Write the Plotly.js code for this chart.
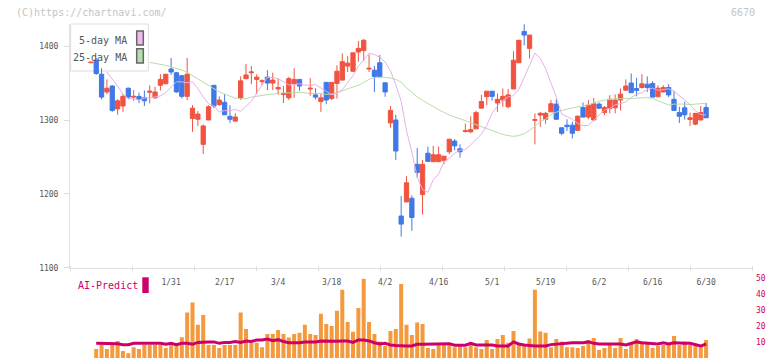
<!DOCTYPE html>
<html>
<head>
<meta charset="utf-8">
<script src="https://cdn.plot.ly/plotly-3.0.1.min.js"></script>
<style>html,body{margin:0;padding:0;background:#fff;}#chart{width:772px;height:361px;}</style>
</head>
<body>
<div id="chart"></div>
<script>
const dates = ['1/9','1/10','1/14','1/15','1/16','1/17','1/20','1/21','1/22','1/23','1/24','1/27','1/28','1/29','1/30','1/31',
'2/3','2/4','2/5','2/6','2/7','2/10','2/12','2/13','2/14','2/17','2/18','2/19','2/20','2/21','2/25','2/26','2/27','2/28',
'3/3','3/4','3/5','3/6','3/7','3/10','3/11','3/12','3/13','3/14','3/17','3/18','3/19','3/21','3/24','3/25','3/26','3/27','3/28','3/31',
'4/1','4/2','4/3','4/4','4/7','4/8','4/9','4/10','4/11','4/14','4/15','4/16','4/17','4/18','4/21','4/22','4/23','4/24','4/25','4/28','4/30',
'5/1','5/2','5/7','5/8','5/9','5/12','5/13','5/14','5/15','5/16','5/19','5/20','5/21','5/22','5/23','5/26','5/27','5/28','5/29','5/30',
'6/2','6/3','6/4','6/5','6/6','6/9','6/10','6/11','6/12','6/13','6/16','6/17','6/18','6/19','6/20','6/23','6/24','6/25','6/26','6/27','6/30'];

const tickDates = ['1/31','2/17','3/4','3/18','4/2','4/16','5/1','5/19','6/2','6/16','6/30'];

const openP = [1377.5,1381,1362,1338,1346,1315,1319,1343,1331,1332,
1330,1337.5,1330,1347,1349,1369,1364,1360,1332,1302,
1301,1267,1300,1347,1321,1324,1305,1298.5,1330,1356,
1364,1355,1352,1358,1350,1342,1334.5,1330,1349.5,1355,
null,1342,1334,1325,1351,1329,1349.5,1354,1373,1366,
1392,1394,1369,1367.5,1377.5,1350.4,1296,1300,1170,1189,
1194,1240,1199,1255,1243.5,1243.5,1245,1257,1271.5,1261,
1284.5,1284,1288,1316,1331.5,1339,1323,1327,1318,1342,
1377.5,1420,1397,1299.5,1306.6,1301,1311,1321.5,1289.5,1293,
1293,1286,1317,1304,1300,1321.5,1310,1315.6,1316.5,1327,
1340.4,1350,1342.7,1344,1348.5,1349.4,1331.4,1338,1344,1328,
1310,1316.5,1300.7,1294.4,1300,1317];

const highP = [1378.3,1384,1370,1355,1347,1328,1335,1344,1340.5,1337,
1340,1347,1345,1362,1362,1384,1365,1361,1384,1320,
1312,1294,1320,1347,1332,1335,1320,1309,1359,1376,
1373,1362,1355,1367.5,1364,1356,1346,1358.5,1370,1355,
null,1356.7,1343,1336,1351,1351,1374,1390,1386.5,1391,
1407,1409.5,1389,1373,1388,1350.4,1319,1307,1197,1224,
1198,1262,1246,1264,1265,1264,1251,1274,1274,1267,
1295,1305,1312.5,1334,1339,1339,1336,1342.7,1342,1393,
1408,1429.7,1415,1309,1311,1311,1327,1328,1289.5,1301,
1297.6,1306.6,1323.7,1327,1330,1323.7,1319,1333.7,1334.6,1342.7,
1355,1363,1357,1362,1359,1352.6,1347,1347,1348.5,1339.5,
1318,1324.7,1310,1309,1319,1323];

const lowP = [1377.5,1361,1328,1335,1311,1307,1311,1328,1326,1323,
1319,1322.5,1329,1340,1349,1361,1337,1329,1327,1284,
1292,1254,1300,1316,1319,1307,1296,1297.5,1327,1355,
1348.6,1335,1347,1340.5,1340.5,1334,1323,1327,1330,1339.6,
null,1333,1328,1311,1321.5,1327,1329,1354,1365,1365,
1379,1380,1365,1338,1358.5,1331.5,1289.5,1246,1142,1189,
1150,1222,1172,1243.5,1243.5,1243.5,1240,1254,1259,1249,
1283,1282,1288,1316,1320,1326,1311,1318,1315.6,1342,
1377.5,1401,1383,1267,1291,1295,1311,1300.7,1279.5,1285,
1275,1285,1303.5,1301,1300,1314.7,1306.6,1309,1309,1313,
1339.5,1337,1332,1342.7,1338,1331,1331,1338,1331,1312.5,
1296,1300.7,1292,1293,1300,1303];

const closeP = [1378.3,1363,1331,1343,1313,1326,1332,1331,1332,1328,
1326,1339,1338,1355,1362,1365,1338,1332,1362,1316,
1308,1292,1318,1319,1327,1307,1301,1304,1353,1361,
1365,1358,1353,1350,1354,1344,1336,1356,1355,1346,
null,1343,1331,1330,1327,1351,1366,1379,1377,1391,
1397,1408,1370,1359,1359,1338,1313,1258,1159,1215,
1168,1229,1240,1244,1253,1253,1251,1274,1265,1257,
1285.5,1287,1310,1325,1339,1332,1328,1332,1334,1381,
1408,1415,1415,1300.5,1309,1309,1322,1301,1282,1291,
1282,1305,1304,1320,1322,1316,1317,1328,1327,1335,
1346,1337,1340,1349,1344,1331,1343,1344,1334,1313,
1305,1307,1303,1309,1310,1303];

const ma5 = [null,null,null,1365,1356,1345.6,1335.2,1329.0,1329.0,1326.8,
1329.8,1329.8,1331.2,1332.6,1337.2,1344.0,1351.8,1351.6,1350.4,1351.8,
1342.6,1331.2,1322.0,1319.2,1310.6,1312.8,1312.6,1314.4,1311.6,1318.4,
1325.2,1336.8,1348.2,1358.0,1357.4,1356.0,1351.8,1347.4,1348.0,1349.0,
1347.4,1346.6,1348.0,1343.0,1338.0,1334.2,1336.4,1341.0,1350.6,1360.0,
1372.8,1382.0,1390.4,1388.6,1385.0,1378.6,1366.8,1347.8,1325.4,1285.4,
1256.6,1222.6,1205.8,1202.2,1219.2,1226.8,1243.8,1248.2,1255.0,1259.2,
1260.0,1266.4,1273.6,1280.8,1292.8,1309.2,1318.6,1326.8,1331.2,1333.0,
1341.4,1356.6,1374.0,1390.6,1383.8,1369.4,1349.6,1331.0,1308.2,1304.6,
1301.0,1295.6,1292.2,1292.8,1300.4,1306.6,1313.4,1315.8,1320.6,1322.0,
1324.6,1330.6,1334.6,1337.0,1341.4,1343.2,1340.2,1341.4,1342.2,1339.2,
1333.0,1327.8,1320.6,1312.4,1307.4,1306.8];

const ma25 = [null,null,null,null,null,null,null,null,null,null,
null,1378,1377,1375.5,1374,1372,1370,1367.5,1364.5,1360,
1355.5,1351,1346,1341.5,1338,1335.0,1332.1,1329.6,1328.6,1329.0,
1330.9,1332.4,1333.5,1334.4,1335.1,1336.1,1336.8,1336.7,1337.4,1337.4,
1336.8,1335.8,1336.0,1336.0,1334.7,1335.1,1336.8,1339.8,1342.2,1344.6,
1347.1,1350.7,1355.0,1357.6,1357.9,1357.8,1356.7,1354.9,1351.1,1343.5,
1337.9,1330.9,1326.6,1322.0,1317.5,1313.8,1310.3,1306.6,1304.4,1301.8,
1299.0,1296.3,1293.2,1290.4,1288.3,1286.2,1283.6,1280.4,1278.9,1277.9,
1278.8,1281.6,1285.7,1292.0,1297.6,1301.4,1307.0,1310.7,1313.2,1314.7,
1316.2,1317.4,1319.5,1320.7,1322.9,1325.5,1326.8,1328.0,1328.7,1328.8,
1328.6,1329.2,1329.5,1329.8,1330.4,1329.0,1325.9,1323.0,1320.2,1321.5,
1321.7,1321.5,1320.9,1321.0,1322.1,1322.8];

const volume = [null,5.7,8.2,5.7,8.2,10.7,4.4,3.0,6.7,5.7,
8.2,8.2,8.2,8.2,6.3,8.2,9.2,13.0,28.5,34.8,
20.8,27.0,8.2,8.2,6.3,8.2,8.2,8.2,28.5,18.2,
9.6,9.6,6.7,15.1,15.1,17.6,15.1,12.8,15.1,15.9,
20.8,15.1,14.5,27.7,21.4,20.1,29.6,42.8,22.6,16.5,
31.4,49.7,22.6,15.1,10.3,7.5,17.0,18.2,46.5,20.8,
14.5,22.2,21.4,6.3,5.7,8.2,8.2,8.2,6.7,7.5,
6.7,8.2,6.7,5.7,11.3,5.7,11.9,14.5,9.6,17.0,
9.2,7.5,12.3,42.8,16.6,15.9,6.7,11.9,10.3,6.7,
6.7,6.3,7.5,11.3,12.5,5.0,6.3,8.2,6.3,12.5,
5.7,9.2,11.9,9.2,8.8,6.3,7.5,8.2,8.2,13.8,
8.2,10.3,8.2,7.5,7.5,11.3];

const aiPredict = [null,9.2,9.2,9.2,9.2,8.9,8.3,8.3,9.2,9.2,
9.2,9.2,9.2,9.2,8.6,9.2,8.3,9.2,9.2,8.6,
9.8,10.1,10.1,10.1,9.2,9.8,9.8,10.4,9.8,10.7,
10.4,11.3,11.3,11.9,10.9,11.5,10.3,9.6,9.6,9.6,
10.1,10.1,10.1,10.7,10.5,10.3,10.5,10.7,10.7,9.8,
11.3,11.3,10.7,9.6,8.8,9.2,8.2,7.8,7.5,7.5,
7.5,8.6,8.6,8.6,8.6,8.6,9.0,9.0,8.0,8.0,
8.0,9.2,8.2,8.2,8.2,8.2,7.5,7.5,7.5,10.1,
8.8,8.2,7.8,7.5,7.5,7.5,8.4,8.8,8.8,9.6,
9.6,9.6,9.6,10.1,9.2,8.8,8.8,8.8,8.8,8.8,
8.2,9.2,10.1,9.6,9.2,8.8,8.8,9.6,8.8,9.6,
9.2,9.2,9.2,8.2,7.5,8.8];

const gridTicks = [0,1,2,3,4,5,6,7,8,9,10,11];

const RED = '#f05440', BLUE = '#4078e8';
const MONO = 'DejaVu Sans Mono, monospace';

const traces = [
  {type:'scatter', mode:'lines', x:dates, y:ma25, line:{color:'#b5dca8', width:1}, hoverinfo:'skip', connectgaps:false},
  {type:'scatter', mode:'lines', x:dates, y:ma5, line:{color:'#e6b0e6', width:1}, hoverinfo:'skip', connectgaps:false},
  {type:'candlestick', x:dates, open:openP, high:highP, low:lowP, close:closeP,
   increasing:{line:{color:RED, width:1}, fillcolor:RED},
   decreasing:{line:{color:BLUE, width:1}, fillcolor:BLUE},
   whiskerwidth:0, hoverinfo:'skip'},
  {type:'scatter', mode:'lines', x:[0], y:[null], xaxis:'x2', yaxis:'y', hoverinfo:'skip'},
  {type:'bar', x:dates, y:volume, xaxis:'x', yaxis:'y2', width:0.75, marker:{color:'#f39a3f', line:{width:0}}, hoverinfo:'skip'},
  {type:'scatter', mode:'lines', x:dates, y:aiPredict, xaxis:'x', yaxis:'y2', line:{color:'#cc0066', width:3}, hoverinfo:'skip'}
];

const layout = {
  width:772, height:361,
  margin:{l:70, r:20, t:24, b:3},
  paper_bgcolor:'#ffffff', plot_bgcolor:'rgba(0,0,0,0)',
  showlegend:false,
  boxgap:0.2, boxgroupgap:0,
  font:{family:MONO, size:8, color:'#555'},
  xaxis:{type:'category', range:[-3.9,123.58], tickmode:'array', tickvals:tickDates, ticktext:tickDates,
    ticks:'', showline:true, linecolor:'#e0e0e0', linewidth:1, showgrid:false, zeroline:false,
    tickfont:{family:MONO, size:8, color:'#555'}, ticklabelstandoff:7, rangeslider:{visible:false}, fixedrange:true},
  xaxis2:{overlaying:'x', anchor:'free', position:0.2784, range:[0,11], tickmode:'array', tickvals:gridTicks,
    ticks:'outside', ticklen:5, tickwidth:1, tickcolor:'#dddddd', showticklabels:false, showgrid:false, zeroline:false, showline:false, fixedrange:true},
  yaxis:{domain:[0.2704,1], range:[1100,1430], tickmode:'array', tickvals:[1100,1200,1300,1400],
    ticks:'outside', ticklen:5, tickcolor:'#dddddd', showline:true, linecolor:'#e0e0e0', linewidth:1,
    showgrid:false, zeroline:false, tickfont:{family:MONO, size:8, color:'#555'}, ticklabelstandoff:4, fixedrange:true},
  yaxis2:{domain:[0,0.2386], range:[0,50], anchor:'x', side:'right', tickmode:'array', tickvals:[0,10,20,30,40,50],
    ticks:'', showline:false, showgrid:false, zeroline:false, tickfont:{family:MONO, size:8, color:'#cc0066'}, ticklabelstandoff:3, fixedrange:true},
  shapes:[
    {type:'rect', xref:'paper', yref:'paper', x0:0.001, x1:0.1148, y0:0.8593, y1:1.0, fillcolor:'#ffffff', line:{color:'#dddddd', width:1}, layer:'below'},
    {type:'rect', xref:'paper', yref:'paper', x0:0.0978, x1:0.1075, y0:0.9371, y1:0.979, fillcolor:'#efbbef', line:{color:'#666666', width:1.5}},
    {type:'rect', xref:'paper', yref:'paper', x0:0.0978, x1:0.1075, y0:0.8832, y1:0.926, fillcolor:'#b8dcae', line:{color:'#666666', width:1.5}},
    {type:'rect', xref:'paper', yref:'paper', x0:0.106, x1:0.1154, y0:0.1946, y1:0.2416, fillcolor:'#cc0066', line:{width:0}}
  ],
  annotations:[
    {xref:'paper', yref:'paper', x:-0.0814, y:1.035, xanchor:'left', yanchor:'middle', showarrow:false,
     text:'(C)https://chartnavi.com/', font:{family:MONO, size:10, color:'#c4c4c4'}},
    {xref:'paper', yref:'paper', x:1.0073, y:1.035, xanchor:'right', yanchor:'middle', showarrow:false,
     text:'6670', font:{family:MONO, size:10, color:'#c4c4c4'}},
    {xref:'paper', yref:'paper', x:0.0872, y:0.950, xanchor:'right', yanchor:'middle', showarrow:false,
     text:'5-day MA', font:{family:MONO, size:10, color:'#555'}},
    {xref:'paper', yref:'paper', x:0.0872, y:0.9003, xanchor:'right', yanchor:'middle', showarrow:false,
     text:'25-day MA', font:{family:MONO, size:10, color:'#555'}},
    {xref:'paper', yref:'paper', x:0.0088, y:0.2156, xanchor:'left', yanchor:'middle', showarrow:false,
     text:'AI-Predict', font:{family:MONO, size:10, color:'#cc0066'}}
  ]
};

Plotly.newPlot('chart', traces, layout, {staticPlot:true, displayModeBar:false});
</script>
</body>
</html>
